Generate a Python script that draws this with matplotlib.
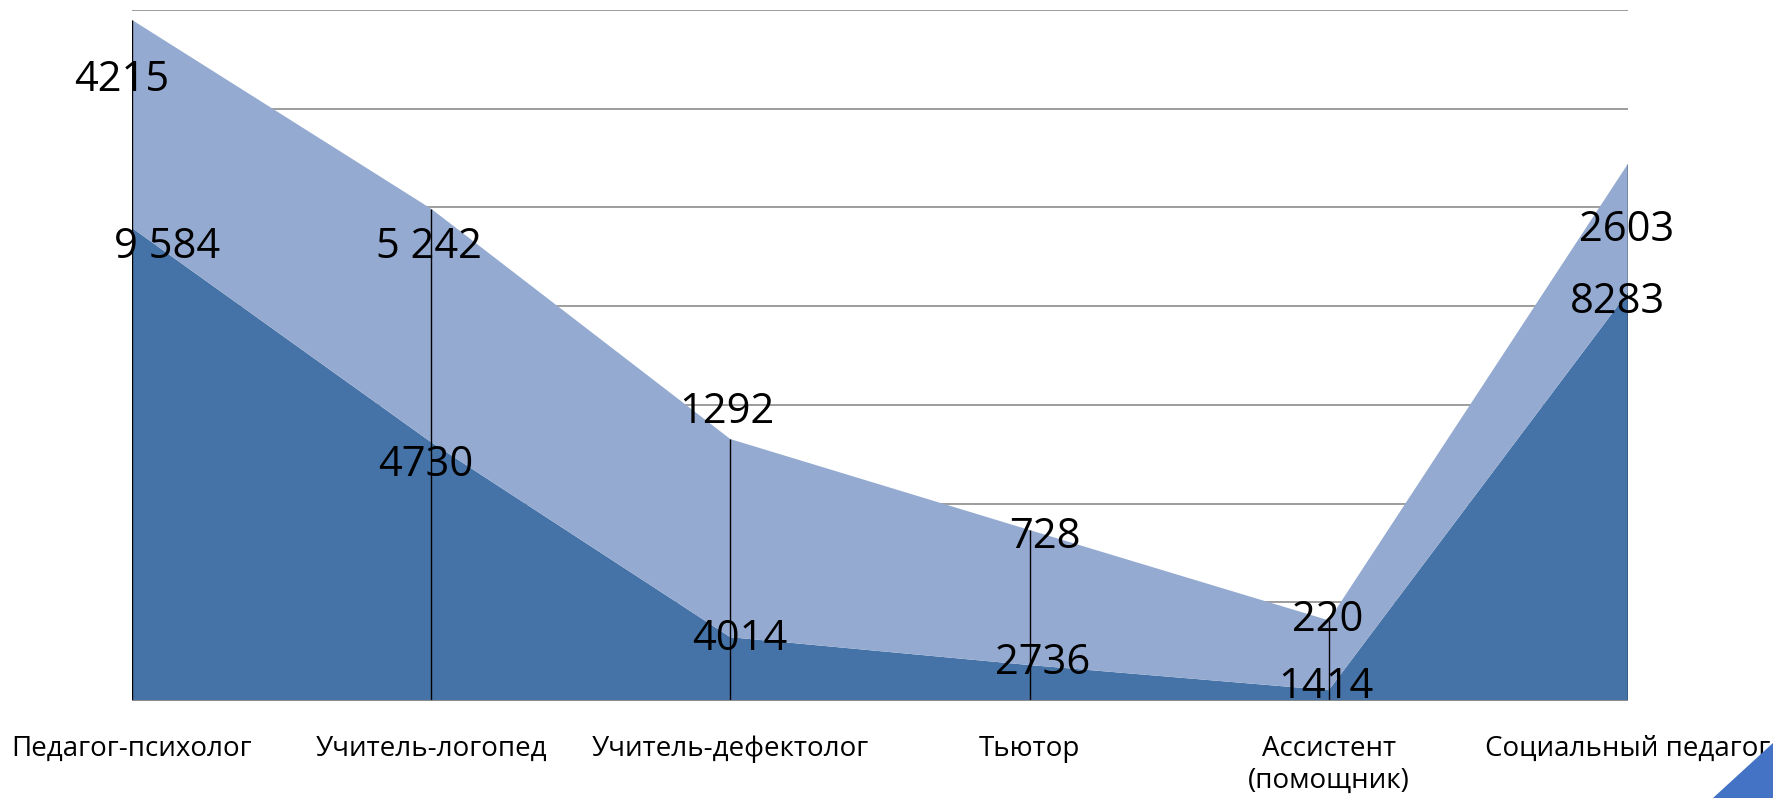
import matplotlib
matplotlib.use("Agg")
import matplotlib.pyplot as plt
from matplotlib.patches import Polygon

# staff categories and the two stacked series
categories = ["Педагог-психолог", "Учитель-логопед", "Учитель-дефектолог",
              "Тьютор", "Ассистент\n(помощник)", "Социальный педагог"]
lower = [9584, 5242, 1292, 728, 220, 8283]
upper = [4215, 4730, 4014, 2736, 1414, 2603]

# data label texts as they appear on the slide
top_text = ["4215", "5 242", "1292", "728", "220", "2603"]
mid_text = ["9 584", "4730", "4014", "2736", "1414", "8283"]

# label offsets in pixels (dx, dy), relative to the band edges
top_off = [(-10, -60), (-2, -38), (-4, 27), (15, -7), (-1, 0), (-1, -66)]
mid_off = [(35, -19), (-5, -23), (9, -2), (13, 2), (-3, 3), (-11, -10)]

DARK = "#4673a7"
LIGHT = "#94aad1"
FONT = ["Open Sans", "DejaVu Sans"]
PX = 0.72  # points per pixel at dpi 100

plt.rcParams["font.family"] = FONT

fig = plt.figure(figsize=(17.73, 7.98), dpi=100)
ax = fig.add_axes([132 / 1773, 97 / 798, (1628 - 132) / 1773, 691 / 798])

x = list(range(len(categories)))
total = [a + b for a, b in zip(lower, upper)]

for g in range(2000, 14001, 2000):
    ax.axhline(g, color="#8c8c8c", lw=1.2, zorder=0)

ax.stackplot(x, lower, upper, colors=[DARK, LIGHT], zorder=1)

# drop lines
ax.vlines(x, 0, total, color="black", lw=1.0, zorder=2)
ax.axhline(0, color="#8c8c8c", lw=1.5, zorder=2)

for i in x:
    dx, dy = top_off[i]
    ax.annotate(top_text[i], (i, total[i]), xytext=(dx * PX, dy * PX),
                textcoords="offset points", ha="center", va="center",
                fontsize=30, annotation_clip=False, zorder=3)
    dx, dy = mid_off[i]
    ax.annotate(mid_text[i], (i, lower[i]), xytext=(dx * PX, dy * PX),
                textcoords="offset points", ha="center", va="center",
                fontsize=30, annotation_clip=False, zorder=3)

ax.set_xlim(0, len(categories) - 1)
ax.set_ylim(0, 14000)
ax.set_xticks(x)
ax.set_xticklabels(categories, fontsize=20, linespacing=1.2)
ax.tick_params(axis="x", length=0, pad=24.5)
ax.set_yticks([])
for s in ax.spines.values():
    s.set_visible(False)

# blue corner decoration bottom right
tri = Polygon([[1713, 0], [1773, 0], [1773, 55]], closed=True,
              transform=None, facecolor="#4472c4", edgecolor="none")
fig.patches.append(tri)

fig.savefig("out.png", dpi=100)
